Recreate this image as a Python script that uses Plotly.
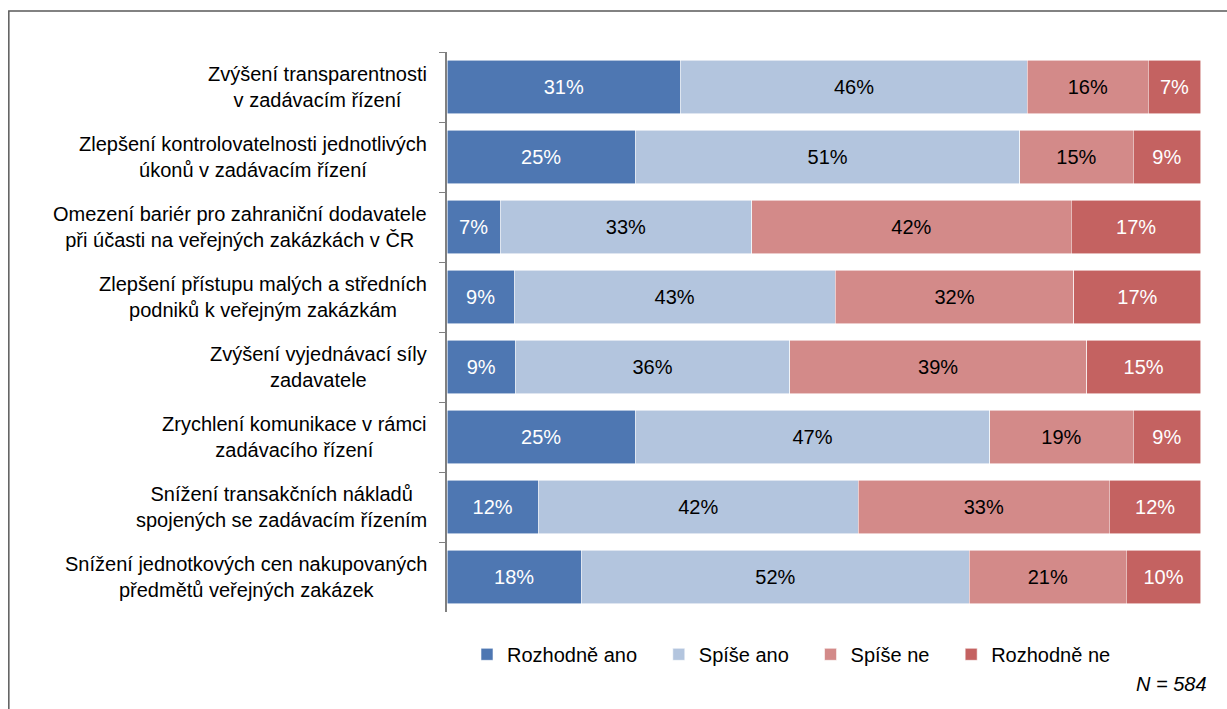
import plotly.graph_objects as go

# Survey items (top to bottom) and answer shares in %
categories = [
    "Zvýšení transparentnosti<br>v zadávacím řízení",
    "Zlepšení kontrolovatelnosti jednotlivých<br>úkonů v zadávacím řízení",
    "Omezení bariér pro zahraniční dodavatele<br>při účasti na veřejných zakázkách v ČR",
    "Zlepšení přístupu malých a středních<br>podniků k veřejným zakázkám",
    "Zvýšení vyjednávací síly<br>zadavatele",
    "Zrychlení komunikace v rámci<br>zadávacího řízení",
    "Snížení transakčních nákladů<br>spojených se zadávacím řízením",
    "Snížení jednotkových cen nakupovaných<br>předmětů veřejných zakázek",
]
rozhodne_ano = [31, 25, 7, 9, 9, 25, 12, 18]
spise_ano = [46, 51, 33, 43, 36, 47, 42, 52]
spise_ne = [16, 15, 42, 32, 39, 19, 33, 21]
rozhodne_ne = [7, 9, 17, 17, 15, 9, 12, 10]

series_names = ["Rozhodně ano", "Spíše ano", "Spíše ne", "Rozhodně ne"]
series_values = [rozhodne_ano, spise_ano, spise_ne, rozhodne_ne]
series_colors = ["#4E77B2", "#B3C5DE", "#D38A89", "#C46261"]
text_colors = ["white", "black", "black", "white"]
sample_note = "N = 584"

FONT = "Liberation Sans, Arial, sans-serif"
FS = 20

W, H = 1227, 709
PLOT_L, PLOT_R = 447, 1200.7
PLOT_T, PLOT_B = 51.7, 611.7
PW = PLOT_R - PLOT_L
PH = PLOT_B - PLOT_T


def px_x(x):
    return (x - PLOT_L) / PW


def px_y(y):
    return (PLOT_B - y) / PH


fig = go.Figure()
for name, vals, col, tcol in zip(series_names, series_values, series_colors, text_colors):
    fig.add_trace(go.Bar(
        y=categories,
        x=vals,
        # trailing no-break spaces widen the legend entry
        name=name + "\u00a0" * 3,
        orientation="h",
        marker=dict(color=col, line=dict(color="rgba(255,255,255,0.7)", width=0.8)),
        text=vals,
        texttemplate="%{text}%",
        textposition="inside",
        insidetextanchor="middle",
        textangle=0,
        constraintext="none",
        textfont=dict(family=FONT, size=FS, color=tcol),
        hoverinfo="skip",
        cliponaxis=False,
    ))

# Category labels, centred line by line, right edge just left of the axis
for cat in categories:
    fig.add_annotation(
        x=px_x(429), xref="paper", xanchor="right",
        y=cat, yref="y", yanchor="middle",
        text=cat, showarrow=False, align="center",
        font=dict(family=FONT, size=FS, color="black"),
    )

fig.add_annotation(
    x=px_x(1209), xref="paper", xanchor="right",
    y=px_y(684), yref="paper", yanchor="middle",
    text="<i>" + sample_note + "</i>", showarrow=False,
    font=dict(family=FONT, size=FS, color="black"),
)

# Outer frame of the chart
fig.add_shape(
    type="rect", xref="paper", yref="paper",
    x0=px_x(9), x1=px_x(W + 20), y0=px_y(H + 20), y1=px_y(10.7),
    line=dict(color="#5A5A5A", width=1.5), fillcolor="rgba(0,0,0,0)",
    layer="above",
)

fig.update_layout(
    width=W, height=H,
    margin=dict(l=PLOT_L, r=W - PLOT_R, t=PLOT_T, b=H - PLOT_B, pad=0),
    barmode="stack",
    barnorm="percent",
    bargap=0.238,
    plot_bgcolor="white",
    paper_bgcolor="white",
    font=dict(family=FONT, size=FS, color="black"),
    showlegend=True,
    legend=dict(
        orientation="h",
        x=px_x(467), xanchor="left",
        y=px_y(654), yanchor="middle",
        font=dict(family=FONT, size=FS, color="black"),
        traceorder="normal",
        itemclick=False, itemdoubleclick=False,
        bgcolor="rgba(0,0,0,0)",
    ),
    xaxis=dict(
        # a hair over 100 so normalised stacks summing to 99 keep their last label
        range=[0, 100.02], visible=False, fixedrange=True,
    ),
    yaxis=dict(
        autorange="reversed",
        showticklabels=False,
        showline=True, linecolor="#808080", linewidth=1.5,
        ticks="outside", ticklen=6, tickcolor="#808080", tickwidth=1.2,
        tickson="boundaries",
        showgrid=False, zeroline=False, fixedrange=True,
    ),
)

fig.write_html("out.html")
